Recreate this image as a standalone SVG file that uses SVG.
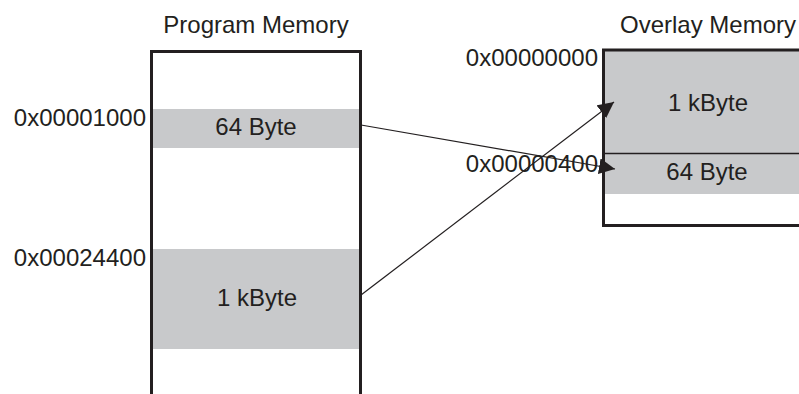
<svg xmlns="http://www.w3.org/2000/svg" width="799" height="394" viewBox="0 0 799 394">
<style>
text{font-family:"Liberation Sans",Arial,sans-serif;font-size:24px;fill:#231f20}
.band{fill:#c8c9cb}
.box{fill:none;stroke:#231f20;stroke-width:3}
.conn{stroke:#231f20;stroke-width:1.2;fill:none}
</style>
<defs>
<marker id="ah" viewBox="0 0 10 10" refX="10" refY="5" markerWidth="16" markerHeight="16" markerUnits="userSpaceOnUse" orient="auto">
<path d="M0,0L10,5L0,10z" fill="#231f20"/>
</marker>
</defs>
<g id="program-memory">
<text x="256" y="33" text-anchor="middle">Program Memory</text>
<rect class="band" x="152" y="109" width="208" height="39"/>
<rect class="band" x="152" y="249" width="208" height="100"/>
<path class="box" d="M151.5,394V51.5H360.5V394"/>
<text x="256" y="135" text-anchor="middle">64 Byte</text>
<text x="257" y="306" text-anchor="middle">1 kByte</text>
<text x="146" y="126" text-anchor="end">0x00001000</text>
<text x="146" y="266" text-anchor="end">0x00024400</text>
</g>
<g id="overlay-memory">
<text x="708" y="33" text-anchor="middle">Overlay Memory</text>
<rect class="band" x="604" y="51" width="195" height="143"/>
<path class="box" d="M799,50H603.5V225.5H799"/>
<line x1="604" y1="153.5" x2="799" y2="153.5" stroke="#231f20" stroke-width="1.5"/>
<text x="708" y="111" text-anchor="middle">1 kByte</text>
<text x="707" y="180" text-anchor="middle">64 Byte</text>
<text x="598" y="66" text-anchor="end">0x00000000</text>
<text x="598" y="172" text-anchor="end">0x00000400</text>
</g>
<g id="connectors">
<line class="conn" x1="361" y1="125" x2="615" y2="169" marker-end="url(#ah)"/>
<line class="conn" x1="361" y1="295" x2="614" y2="102" marker-end="url(#ah)"/>
</g>
</svg>
